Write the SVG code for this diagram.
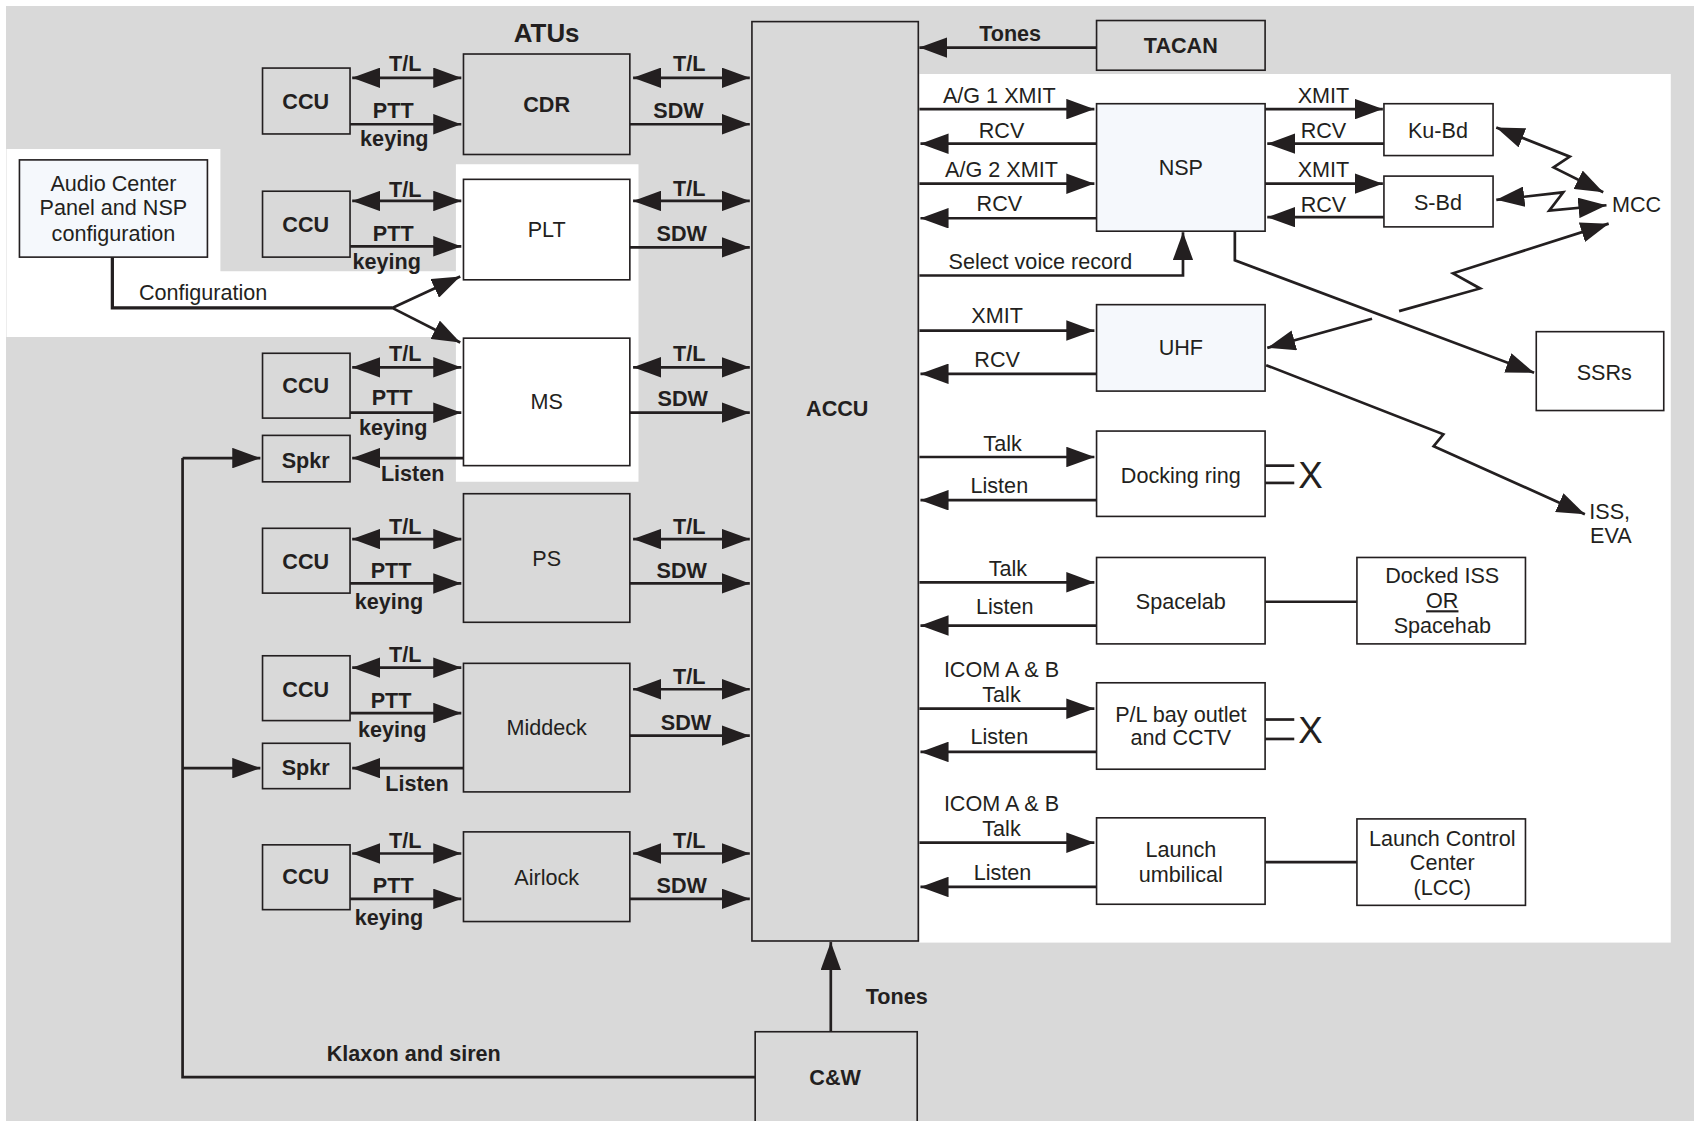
<svg xmlns="http://www.w3.org/2000/svg" width="1694" height="1121" viewBox="0 0 1694 1121">
<defs>
<style>
.bx{fill:#d9d9d9;stroke:#231f20;stroke-width:1.5}
.bw{fill:#ffffff;stroke:#231f20;stroke-width:1.5}
.bl{fill:#f5f8fc;stroke:#231f20;stroke-width:1.5}
.ln{fill:none;stroke:#231f20;stroke-width:2.5}
.a1{marker-end:url(#ah)}
.a2{marker-start:url(#ah);marker-end:url(#ah)}
.t{font-family:"Liberation Sans",Arial,sans-serif;font-size:20px;fill:#231f20;text-anchor:middle}
.b{font-weight:bold}
</style>
<marker id="ah" viewBox="0 0 26 19" refX="26" refY="9.5" markerWidth="26" markerHeight="19" markerUnits="userSpaceOnUse" orient="auto-start-reverse">
<path d="M0,0 L26,9.5 L0,19 z" fill="#231f20"/>
</marker>
</defs>
<rect x="0" y="0" width="1694" height="1121" fill="#ffffff"/>
<rect x="6" y="6" width="1688" height="1115" fill="#d9d9d9"/>
<g transform="scale(1.080357)">
<path d="M6,138 H204 V251 H422 V152 H591 V446 H422 V312 H6 Z" fill="#ffffff"/>
<rect x="851" y="68.5" width="695.5" height="804" fill="#ffffff"/>

<text class="t b" x="506" y="39" style="font-size:24px">ATUs</text>

<g id="connectors">
<!-- row 1 -->
<line class="ln a2" x1="326" y1="72" x2="427" y2="72"/>
<line class="ln a1" x1="324" y1="115" x2="427" y2="115"/>
<line class="ln a2" x1="586" y1="72" x2="694" y2="72"/>
<line class="ln a1" x1="583" y1="115" x2="694" y2="115"/>
<!-- row 2 -->
<line class="ln a2" x1="326" y1="186" x2="427" y2="186"/>
<line class="ln a1" x1="324" y1="228" x2="427" y2="228"/>
<line class="ln a2" x1="586" y1="186" x2="694" y2="186"/>
<line class="ln a1" x1="583" y1="229" x2="694" y2="229"/>
<!-- row 3 -->
<line class="ln a2" x1="326" y1="340" x2="427" y2="340"/>
<line class="ln a1" x1="324" y1="382" x2="427" y2="382"/>
<line class="ln a2" x1="586" y1="340" x2="694" y2="340"/>
<line class="ln a1" x1="583" y1="382" x2="694" y2="382"/>
<line class="ln a1" x1="429" y1="424" x2="326" y2="424"/>
<line class="ln a1" x1="169" y1="424" x2="241" y2="424"/>
<!-- row 4 -->
<line class="ln a2" x1="326" y1="499" x2="427" y2="499"/>
<line class="ln a1" x1="324" y1="540" x2="427" y2="540"/>
<line class="ln a2" x1="586" y1="499" x2="694" y2="499"/>
<line class="ln a1" x1="583" y1="540" x2="694" y2="540"/>
<!-- row 5 -->
<line class="ln a2" x1="326" y1="618" x2="427" y2="618"/>
<line class="ln a1" x1="324" y1="660" x2="427" y2="660"/>
<line class="ln a2" x1="586" y1="638" x2="694" y2="638"/>
<line class="ln a1" x1="583" y1="681" x2="694" y2="681"/>
<line class="ln a1" x1="429" y1="711" x2="326" y2="711"/>
<line class="ln a1" x1="169" y1="711" x2="241" y2="711"/>
<!-- row 6 -->
<line class="ln a2" x1="326" y1="790" x2="427" y2="790"/>
<line class="ln a1" x1="324" y1="832" x2="427" y2="832"/>
<line class="ln a2" x1="586" y1="790" x2="694" y2="790"/>
<line class="ln a1" x1="583" y1="832" x2="694" y2="832"/>
<!-- klaxon & tones -->
<polyline class="ln" points="169,424 169,997 699,997"/>
<line class="ln a1" x1="769" y1="955" x2="769" y2="872"/>
<line class="ln a1" x1="1015" y1="44" x2="851" y2="44"/>
<!-- configuration -->
<polyline class="ln" points="104,238 104,285 363,285" style="stroke-width:3"/>
<line class="ln a1" x1="363" y1="285" x2="426" y2="256"/>
<line class="ln a1" x1="363" y1="285" x2="426" y2="317"/>
<!-- NSP -->
<line class="ln a1" x1="851" y1="101" x2="1013" y2="101"/>
<line class="ln a1" x1="1015" y1="133" x2="852" y2="133"/>
<line class="ln a1" x1="851" y1="170" x2="1013" y2="170"/>
<line class="ln a1" x1="1015" y1="202" x2="852" y2="202"/>
<polyline class="ln a1" points="851,255 1095,255 1095,215"/>
<line class="ln a1" x1="1171" y1="101" x2="1280" y2="101"/>
<line class="ln a1" x1="1281" y1="133" x2="1173" y2="133"/>
<line class="ln a1" x1="1171" y1="170" x2="1280" y2="170"/>
<line class="ln a1" x1="1281" y1="201" x2="1173" y2="201"/>
<polyline class="ln a2" points="1385,118 1453,145 1438,155 1484,178"/>
<polyline class="ln a2" points="1385,185 1447,178 1434,195 1487,190"/>
<polyline class="ln a1" points="1143,214 1143,241 1420,345"/>
<line class="ln" x1="1270" y1="295" x2="1173" y2="322" style="marker-end:url(#ah)"/>
<polyline class="ln a1" points="1295,288 1370,267 1345,253 1489,207"/>
<!-- UHF -->
<line class="ln a1" x1="851" y1="306" x2="1013" y2="306"/>
<line class="ln a1" x1="1015" y1="346" x2="852" y2="346"/>
<polyline class="ln a1" points="1172,338 1336,402 1327,413 1467,476"/>
<!-- docking -->
<line class="ln a1" x1="851" y1="423" x2="1013" y2="423"/>
<line class="ln a1" x1="1015" y1="463" x2="852" y2="463"/>
<line class="ln" x1="1171" y1="431" x2="1198" y2="431"/>
<line class="ln" x1="1171" y1="447" x2="1198" y2="447"/>
<!-- spacelab -->
<line class="ln a1" x1="851" y1="539" x2="1013" y2="539"/>
<line class="ln a1" x1="1015" y1="579" x2="852" y2="579"/>
<line class="ln" x1="1171" y1="557" x2="1256" y2="557"/>
<!-- P/L -->
<line class="ln a1" x1="851" y1="656" x2="1013" y2="656"/>
<line class="ln a1" x1="1015" y1="696" x2="852" y2="696"/>
<line class="ln" x1="1171" y1="666" x2="1198" y2="666"/>
<line class="ln" x1="1171" y1="684" x2="1198" y2="684"/>
<!-- launch -->
<line class="ln a1" x1="851" y1="780" x2="1013" y2="780"/>
<line class="ln a1" x1="1015" y1="821" x2="852" y2="821"/>
<line class="ln" x1="1171" y1="798" x2="1256" y2="798"/>
</g>

<g id="connector-labels">
<text class="t b" x="375" y="66">T/L</text>
<text class="t b" x="364" y="109">PTT</text>
<text class="t b" x="365" y="135">keying</text>
<text class="t b" x="638" y="66">T/L</text>
<text class="t b" x="628" y="109">SDW</text>

<text class="t b" x="375" y="182">T/L</text>
<text class="t b" x="364" y="223">PTT</text>
<text class="t b" x="358" y="249">keying</text>
<text class="t b" x="638" y="181">T/L</text>
<text class="t b" x="631" y="223">SDW</text>

<text class="t b" x="375" y="334">T/L</text>
<text class="t b" x="363" y="375">PTT</text>
<text class="t b" x="364" y="403">keying</text>
<text class="t b" x="638" y="334">T/L</text>
<text class="t b" x="632" y="376">SDW</text>
<text class="t b" x="382" y="445">Listen</text>

<text class="t b" x="375" y="494">T/L</text>
<text class="t b" x="362" y="535">PTT</text>
<text class="t b" x="360" y="564">keying</text>
<text class="t b" x="638" y="494">T/L</text>
<text class="t b" x="631" y="535">SDW</text>

<text class="t b" x="375" y="613">T/L</text>
<text class="t b" x="362" y="655">PTT</text>
<text class="t b" x="363" y="682">keying</text>
<text class="t b" x="638" y="633">T/L</text>
<text class="t b" x="635" y="676">SDW</text>
<text class="t b" x="386" y="732">Listen</text>

<text class="t b" x="375" y="785">T/L</text>
<text class="t b" x="364" y="827">PTT</text>
<text class="t b" x="360" y="856">keying</text>
<text class="t b" x="638" y="785">T/L</text>
<text class="t b" x="631" y="827">SDW</text>

<text class="t b" x="383" y="982">Klaxon and siren</text>
<text class="t b" x="830" y="929">Tones</text>
<text class="t b" x="935" y="38">Tones</text>
<text class="t" x="188" y="278">Configuration</text>

<text class="t" x="925" y="95">A/G 1 XMIT</text>
<text class="t" x="927" y="128">RCV</text>
<text class="t" x="927" y="164">A/G 2 XMIT</text>
<text class="t" x="925" y="195">RCV</text>
<text class="t" x="963" y="249">Select voice record</text>
<text class="t" x="1225" y="95">XMIT</text>
<text class="t" x="1225" y="128">RCV</text>
<text class="t" x="1225" y="164">XMIT</text>
<text class="t" x="1225" y="196">RCV</text>
<text class="t" x="1492" y="196" style="text-anchor:start">MCC</text>
<text class="t" x="923" y="299">XMIT</text>
<text class="t" x="923" y="340">RCV</text>
<text class="t" x="1490" y="480">ISS,</text>
<text class="t" x="1491" y="503">EVA</text>
<text class="t" x="928" y="417">Talk</text>
<text class="t" x="925" y="456">Listen</text>
<text class="t" x="1213" y="452" style="font-size:34px">X</text>
<text class="t" x="933" y="533">Talk</text>
<text class="t" x="930" y="568">Listen</text>
<text class="t" x="927" y="627">ICOM A &amp; B</text>
<text class="t" x="927" y="650">Talk</text>
<text class="t" x="925" y="689">Listen</text>
<text class="t" x="1213" y="688" style="font-size:34px">X</text>
<text class="t" x="927" y="751">ICOM A &amp; B</text>
<text class="t" x="927" y="774">Talk</text>
<text class="t" x="928" y="815">Listen</text>
</g>

<g id="node-ccu1"><rect class="bx" x="243" y="63" width="81" height="61"/><text class="t b" x="283" y="101">CCU</text></g>
<g id="node-cdr"><rect class="bx" x="429" y="50" width="154" height="93"/><text class="t b" x="506" y="104">CDR</text></g>
<g id="node-ccu2"><rect class="bx" x="243" y="177" width="81" height="61"/><text class="t b" x="283" y="215">CCU</text></g>
<g id="node-plt"><rect class="bw" x="429" y="166" width="154" height="93"/><text class="t" x="506" y="219">PLT</text></g>
<g id="node-ccu3"><rect class="bx" x="243" y="327" width="81" height="60"/><text class="t b" x="283" y="364">CCU</text></g>
<g id="node-ms"><rect class="bw" x="429" y="313" width="154" height="118"/><text class="t" x="506" y="379">MS</text></g>
<g id="node-spkr1"><rect class="bx" x="243" y="403" width="81" height="43"/><text class="t b" x="283" y="433">Spkr</text></g>
<g id="node-ccu4"><rect class="bx" x="243" y="489" width="81" height="60"/><text class="t b" x="283" y="527">CCU</text></g>
<g id="node-ps"><rect class="bx" x="429" y="457" width="154" height="119"/><text class="t" x="506" y="524">PS</text></g>
<g id="node-ccu5"><rect class="bx" x="243" y="607" width="81" height="60"/><text class="t b" x="283" y="645">CCU</text></g>
<g id="node-middeck"><rect class="bx" x="429" y="614" width="154" height="119"/><text class="t" x="506" y="680">Middeck</text></g>
<g id="node-spkr2"><rect class="bx" x="243" y="688" width="81" height="42"/><text class="t b" x="283" y="717">Spkr</text></g>
<g id="node-ccu6"><rect class="bx" x="243" y="782" width="81" height="60"/><text class="t b" x="283" y="818">CCU</text></g>
<g id="node-airlock"><rect class="bx" x="429" y="770" width="154" height="83"/><text class="t" x="506" y="819">Airlock</text></g>
<g id="node-accu"><rect class="bx" x="696" y="20" width="154" height="851"/><text class="t b" x="775" y="385">ACCU</text></g>
<g id="node-cw"><rect class="bx" x="699" y="955" width="150" height="100"/><text class="t b" x="773" y="1004">C&amp;W</text></g>
<g id="node-tacan"><rect class="bx" x="1015" y="19" width="156" height="46"/><text class="t b" x="1093" y="49">TACAN</text></g>
<g id="node-audio"><rect class="bl" x="18" y="148" width="174" height="90"/>
<text class="t" x="105" y="177">Audio Center</text>
<text class="t" x="105" y="199">Panel and NSP</text>
<text class="t" x="105" y="223">configuration</text></g>
<g id="node-nsp"><rect class="bl" x="1015" y="96" width="156" height="118"/><text class="t" x="1093" y="162">NSP</text></g>
<g id="node-kubd"><rect class="bw" x="1281" y="96" width="101" height="48"/><text class="t" x="1331" y="128">Ku-Bd</text></g>
<g id="node-sbd"><rect class="bw" x="1281" y="163" width="101" height="47"/><text class="t" x="1331" y="194">S-Bd</text></g>
<g id="node-ssrs"><rect class="bw" x="1422" y="307" width="118" height="73"/><text class="t" x="1485" y="352">SSRs</text></g>
<g id="node-uhf"><rect class="bl" x="1015" y="282" width="156" height="80"/><text class="t" x="1093" y="329">UHF</text></g>
<g id="node-docking"><rect class="bw" x="1015" y="399" width="156" height="79"/><text class="t" x="1093" y="447">Docking ring</text></g>
<g id="node-spacelab"><rect class="bw" x="1015" y="516" width="156" height="80"/><text class="t" x="1093" y="564">Spacelab</text></g>
<g id="node-docked"><rect class="bw" x="1256" y="516" width="156" height="80"/>
<text class="t" x="1335" y="540">Docked ISS</text>
<text class="t" x="1335" y="563" text-decoration="underline">OR</text>
<text class="t" x="1335" y="586">Spacehab</text></g>
<g id="node-plbay"><rect class="bw" x="1015" y="632" width="156" height="80"/>
<text class="t" x="1093" y="668">P/L bay outlet</text>
<text class="t" x="1093" y="690">and CCTV</text></g>
<g id="node-launch"><rect class="bw" x="1015" y="757" width="156" height="80"/>
<text class="t" x="1093" y="793">Launch</text>
<text class="t" x="1093" y="816">umbilical</text></g>
<g id="node-lcc"><rect class="bw" x="1256" y="758" width="156" height="80"/>
<text class="t" x="1335" y="783">Launch Control</text>
<text class="t" x="1335" y="805">Center</text>
<text class="t" x="1335" y="828">(LCC)</text></g>
</g>
</svg>
